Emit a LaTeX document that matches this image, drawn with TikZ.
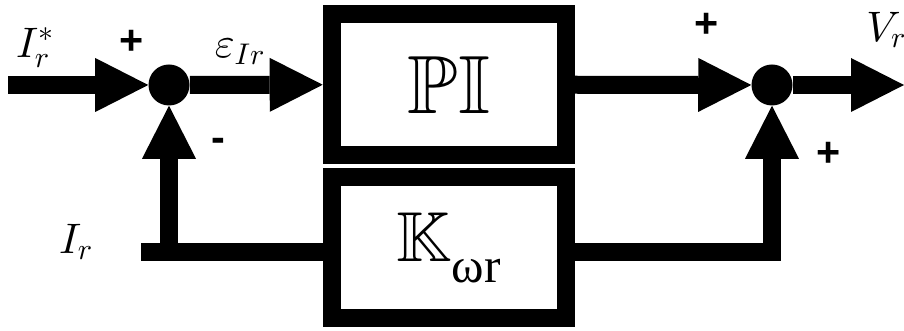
\documentclass[tikz,border=0pt]{standalone}
\usepackage{amssymb}
\DeclareFontFamily{U}{msb}{}
\DeclareFontShape{U}{msb}{m}{n}{<-> msbm10}{}
\DeclareFontFamily{OML}{cmm}{\skewchar\font127}
\DeclareFontShape{OML}{cmm}{m}{it}{<-> cmmi10}{}
\DeclareFontFamily{OMS}{cmsy}{\skewchar\font48}
\DeclareFontShape{OMS}{cmsy}{m}{n}{<-> cmsy10}{}
\DeclareFontFamily{OT1}{cmr}{}
\DeclareFontShape{OT1}{cmr}{m}{n}{<-> cmr10}{}
\usepackage{fontspec}
\newfontfamily\sansb{Liberation Sans}
\newfontfamily\serf{Liberation Serif}
\usetikzlibrary{arrows.meta,calc}
\begin{document}
\begin{tikzpicture}[x=0.75pt,y=-0.75pt,
 sig/.style={line width=13.5pt},
 arr/.style={sig,-{Triangle[length=39.75pt,width=40.5pt,line width=0pt]}},
 blk/.style={draw,line width=13.5pt,minimum width=175.7pt,minimum height=106.1pt,inner sep=0pt},
 sumnode/.style={circle,fill,inner sep=0pt,minimum size=30.75pt},
 sgn/.style={font=\sansb\bfseries\fontsize{31}{34}\selectfont,inner sep=0pt},
 lbl/.style={font=\fontsize{32}{36}\selectfont,inner sep=0pt}]
\useasboundingbox (0,0) rectangle (904,331);
\node[blk] (PI) at (448.85,84.75) {\fontsize{62}{70}\selectfont$\mathbb{PI}$};
\node[blk] (K) at (448.85,247.75) {\fontsize{53}{60}\selectfont$\mathbb{K}$\raisebox{-0.3em}{\serf\fontsize{37}{40}\selectfont ωr}};
\node[sumnode] (s1) at (169,85) {};
\node[sumnode] (s2) at (772,85) {};
\coordinate (in) at (8,85);
\coordinate (out) at (904,85);
\coordinate (fbl) at (141,252);
\coordinate (kl) at (322.7,252);
\coordinate (kr) at (575.3,252);
\draw[arr] (in) -- (s1.west);
\draw[arr] (s1.east) -- (PI.west);
\draw[sig] (kl) -- (fbl);
\draw[arr] (s1.south |- fbl) -- (s1.south);
\draw[arr] (PI.east) -- (s2.west);
\draw[arr] (kr) -| (s2.south);
\draw[arr] (s2.east) -- (out);
\node[lbl] (Istar) at (35,48) {$I_r^*$};
\node[sgn] (p1) at (132,42) {+};
\node[sgn] (m1) at (218,145) {-};
\node[lbl] (eps) at (240,52) {$\varepsilon_{Ir}$};
\node[sgn] (p2) at (707,25) {+};
\node[sgn] (p3) at (829,154) {+};
\node[lbl,anchor=west] (Vr) at (866,30) {$V_r$};
\node[lbl] (Ir) at (76,242) {$I_r$};
\end{tikzpicture}
\end{document}
